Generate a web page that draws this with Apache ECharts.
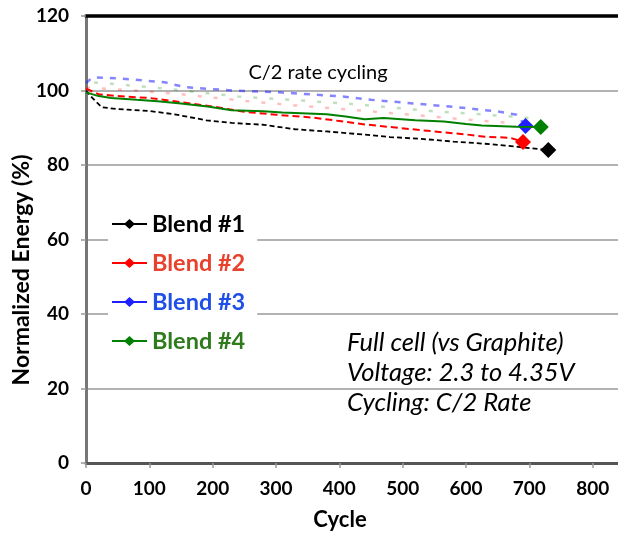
<!DOCTYPE html>
<html><head><meta charset="utf-8">
<script src="https://cdn.jsdelivr.net/npm/echarts@6.0.0/dist/echarts.min.js"></script>
<style>html,body{margin:0;padding:0;background:#fff}#c{width:618px;height:533px}</style>
</head><body><div id="c"></div>
<script>
// ---- data ----
const xTickValues = [0,100,200,300,400,500,600,700,800];
const yTickValues = [0,20,40,60,80,100,120];
const seriesNames = ['Blend #1','Blend #2','Blend #3','Blend #4'];

const blend1Cycles = [0,10,25,50,100,140,190,230,280,330,380,430,480,530,580,630,675,730];
const blend1Energy = [100,98,95.5,95,94.5,93.6,92,91.3,90.8,89.6,89,88.3,87.5,87,86.3,85.7,85,84];

const blend2Cycles = [0,20,50,100,140,200,250,300,360,400,440,480,550,600,630,670,690];
const blend2Energy = [100.5,99,98.5,98,97.1,95.7,94.3,93.5,92.7,91.8,90.9,90.2,89,88.2,87.6,87.3,86.2];

const blend3Cycles = [0,10,50,124,156,230,306,405,450,498,586,649,680,694];
const blend3Energy = [102,103.5,103.3,102.2,100.9,100,99.5,98.4,97.5,96.8,95.5,94.4,93.5,90.5];

const blend4Cycles = [0,20,40,80,113,150,192,230,280,310,380,410,440,470,520,565,600,625,680,718];
const blend4Energy = [99.5,98.5,98,97.5,97.1,96.5,95.7,94.7,94.4,94.1,93.6,93,92.3,92.6,92,91.7,91,90.6,90.3,90.2];

// faint upper traces visible behind the main curves
const blend2UpperCycles = [0,60,150,250,330,420,520,600,670];
const blend2UpperEnergy = [100.8,100.2,99,97.2,96,94.8,93.4,92.2,91.3];
const blend4UpperCycles = [0,40,120,240,330,420,550,650,700];
const blend4UpperEnergy = [102.3,101.8,100.6,98.4,97.4,96.4,94.4,93.3,92.6];

const lineColors = ['#000000','#ff0000','#2020ff','#008000'];
const legendTextColors = ['#000000','#e8412c','#1f4fe6','#2e7a1c'];

// ---- build ----
function pts(cycles, vals, marker){
  return cycles.map((c,i)=> (marker && i===cycles.length-1)
    ? {value:[c,vals[i]], symbol:'diamond', symbolSize:16}
    : {value:[c,vals[i]]});
}
const seriesData = [
  pts(blend1Cycles, blend1Energy, true),
  pts(blend2Cycles, blend2Energy, true),
  pts(blend3Cycles, blend3Energy, true),
  pts(blend4Cycles, blend4Energy, true)
];
const lineTypes = [[5,3],[7,4],[6,7],'solid'];
const lineWidths = [1.8,2,2.5,2];
const lineOpac = [1,1,0.55,1];

const FONT = 'Lato, "Open Sans", sans-serif';
const chart = echarts.init(document.getElementById('c'), null, {renderer:'canvas'});
const legendIcon = 'path://M0,4H13V6H0Z M12,5 L17.5,0 L23,5 L17.5,10Z M22,4H35V6H22Z';

const mainSeries = seriesNames.map((n,i)=>({
  name:n, type:'line', xAxisIndex:0,
  data: seriesData[i],
  symbol:'none', showSymbol:true, z: [3,4,2,5][i],
  itemStyle:{color:lineColors[i], opacity:1},
  lineStyle:{color:lineColors[i], width:lineWidths[i], type:lineTypes[i], opacity:lineOpac[i]},
  emphasis:{disabled:true}
}));
const ghost = (name, cyc, val, color, dashOff) => ({
  name:name, type:'line', data: pts(cyc, val, false), symbol:'none', z:1,
  itemStyle:{color:color}, lineStyle:{color:color, width:2.5, type:[4,12], dashOffset:dashOff, opacity:0.25},
  emphasis:{disabled:true}
});

chart.setOption({
  animation:false,
  backgroundColor:'#fff',
  grid:{left:86, right:0, top:16, bottom:70, containLabel:false},
  xAxis:[{
    type:'value', min:0, max:840, interval:100,
    axisLine:{show:true, lineStyle:{color:'#555', width:3}},
    axisTick:{show:true, length:5, lineStyle:{color:'#999', width:1.5}},
    axisLabel:{showMaxLabel:false, color:'#000', fontFamily:FONT, fontWeight:'bold', fontSize:19, margin:16},
    splitLine:{show:false}
  },{
    type:'value', position:'top', min:0, max:840,
    axisLine:{show:true, onZero:false, lineStyle:{color:'#000', width:3.5}},
    axisTick:{show:false}, axisLabel:{show:false}, splitLine:{show:false}
  }],
  yAxis:{
    type:'value', min:0, max:120, interval:20,
    axisLine:{show:true, lineStyle:{color:'#777', width:3}},
    axisTick:{show:true, length:5, lineStyle:{color:'#999', width:1.5}},
    axisLabel:{color:'#000', fontFamily:FONT, fontWeight:'bold', fontSize:19, margin:17},
    splitLine:{show:true, lineStyle:{color:'#999', width:1.5}}
  },
  legend:{
    orient:'vertical', left:108, top:208,
    backgroundColor:'#fff', padding:[4,12,4,4],
    itemWidth:35, itemHeight:10, itemGap:15,
    icon:legendIcon,
    itemStyle:{opacity:1, borderWidth:0},
    lineStyle:{opacity:1},
    textStyle:{fontFamily:FONT, fontWeight:'bold', fontSize:23.5, lineHeight:24},
    data: seriesNames.map((n,i)=>({
      name:n,
      itemStyle:{color:lineColors[i], opacity:1, borderWidth:0},
      lineStyle:{color:lineColors[i], opacity:1},
      textStyle:{color:legendTextColors[i]}
    }))
  },
  series: mainSeries.concat([
    ghost('Blend #2', blend2UpperCycles, blend2UpperEnergy, '#ff0000', 0),
    ghost('Blend #4', blend4UpperCycles, blend4UpperEnergy, '#008000', 8)
  ]),
  graphic:[
    {type:'text', x:22, y:270, rotation:Math.PI/2,
     style:{text:'Normalized Energy (%)', fill:'#000', font:'bold 23px '+FONT, align:'center', verticalAlign:'middle'}},
    {type:'text', x:340, y:520,
     style:{text:'Cycle', fill:'#000', font:'bold 22px '+FONT, align:'center', verticalAlign:'middle'}},
    {type:'text', x:318, y:73,
     style:{text:'C/2 rate cycling', fill:'#000', font:'20px '+FONT, align:'center', verticalAlign:'middle'}},
    {type:'rect', shape:{x:332, y:325, width:251, height:92}, style:{fill:'#fff'}},
    {type:'text', x:347, y:343, style:{text:'Full cell (vs Graphite)', fill:'#000', font:'italic 25.5px '+FONT, verticalAlign:'middle'}},
    {type:'text', x:347, y:373, style:{text:'Voltage: 2.3 to 4.35V', fill:'#000', font:'italic 25.5px '+FONT, verticalAlign:'middle'}},
    {type:'text', x:347, y:403, style:{text:'Cycling: C/2 Rate', fill:'#000', font:'italic 25.5px '+FONT, verticalAlign:'middle'}}
  ]
});
</script></body></html>
